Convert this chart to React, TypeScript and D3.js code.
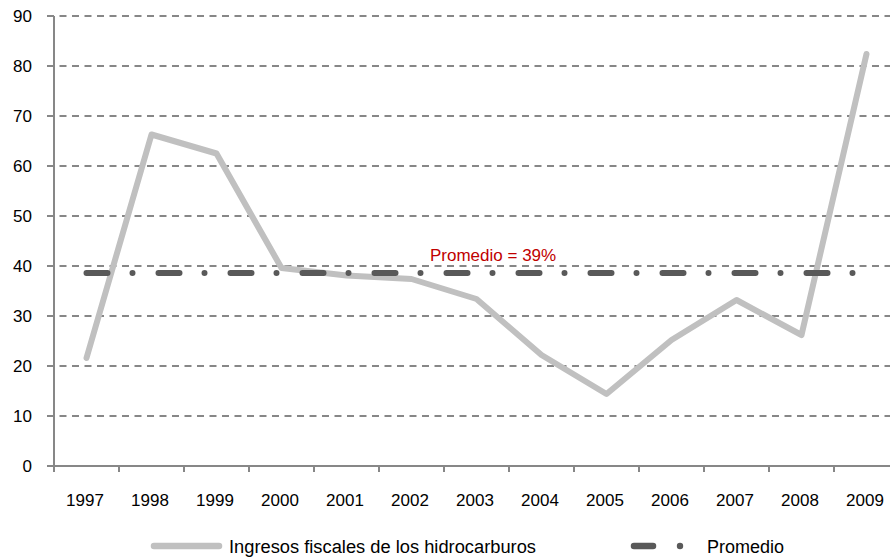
import React from "react";
import * as d3 from "d3";

const years = ["1997","1998","1999","2000","2001","2002","2003","2004","2005","2006","2007","2008","2009"];
const ingresos = [21.6, 66.3, 62.5, 39.6, 38.1, 37.4, 33.4, 22.2, 14.4, 25.2, 33.2, 26.2, 82.4];
const promedio = 38.6;
const yTicks = [0, 10, 20, 30, 40, 50, 60, 70, 80, 90];
const seriesName = "Ingresos fiscales de los hidrocarburos";
const avgName = "Promedio";
const avgLabel = "Promedio = 39%";

const W = 890, H = 559;
const FONT = "'Liberation Sans', Arial, Helvetica, sans-serif";

export default function App() {
  const x = d3.scaleBand<string>().domain(years).range([54, 54 + 65 * years.length]).paddingInner(0).paddingOuter(0);
  const y = d3.scaleLinear().domain([0, 90]).range([466, 16]);
  const cx = (yr: string) => (x(yr) as number) + x.bandwidth() / 2;

  const line = d3.line<number>().x((_, i) => cx(years[i])).y((v) => y(v));
  const avgLine = d3.line<string>().x((yr) => cx(yr)).y(() => y(promedio));

  const gridColor = "#878787";
  const boundaries = years.map((yr) => x(yr) as number).concat([(x(years[years.length - 1]) as number) + x.bandwidth()]);

  return (
    <svg width={W} height={H} style={{ position: "absolute", left: 0, top: 0, background: "#fff" }} fontFamily={FONT}>
      {yTicks.filter((t) => t > 0).map((t) => (
        <line key={t} x1={47} x2={W} y1={y(t)} y2={y(t)} stroke={gridColor} strokeWidth={2} strokeDasharray="7 5.5" />
      ))}
      {yTicks.map((t) => (
        <text key={"yl" + t} x={32} y={y(t)} dy="0.36em" textAnchor="end" fontSize={17} fill="#000">{t}</text>
      ))}
      {yTicks.map((t) => (
        <line key={"yt" + t} x1={47} x2={54} y1={y(t)} y2={y(t)} stroke={gridColor} strokeWidth={2} />
      ))}
      <line x1={54} x2={54} y1={y(90)} y2={y(0)} stroke={gridColor} strokeWidth={2} />
      <line x1={54} x2={W} y1={y(0)} y2={y(0)} stroke={gridColor} strokeWidth={2} />
      {boundaries.map((b, i) => (
        <line key={"xt" + i} x1={b} x2={b} y1={y(0)} y2={y(0) + 6} stroke={gridColor} strokeWidth={2} />
      ))}
      {years.map((yr) => (
        <text key={"xl" + yr} x={cx(yr) - 1.5} y={506} textAnchor="middle" fontSize={17} fill="#000">{yr}</text>
      ))}
      <path d={line(ingresos) || ""} fill="none" stroke="#C0C0C0" strokeWidth={6} strokeLinejoin="round" strokeLinecap="round" />
      <path d={avgLine([years[0], years[years.length - 1]]) || ""} fill="none" stroke="#595959" strokeWidth={6}
        strokeLinecap="round" strokeDasharray="21 25 0 26" />
      <text x={430} y={261} fontSize={17} fill="#C00000">{avgLabel}</text>
      <line x1={154} x2={219} y1={546} y2={546} stroke="#C0C0C0" strokeWidth={6.5} strokeLinecap="round" />
      <text x={229} y={552.5} fontSize={18} fill="#000" textLength={307} lengthAdjust="spacingAndGlyphs">{seriesName}</text>
      <line x1={634} x2={653} y1={546} y2={546} stroke="#595959" strokeWidth={6.5} strokeLinecap="round" />
      <circle cx={680} cy={546} r={3.2} fill="#595959" />
      <text x={707} y={552.5} fontSize={18} fill="#000">{avgName}</text>
    </svg>
  );
}
